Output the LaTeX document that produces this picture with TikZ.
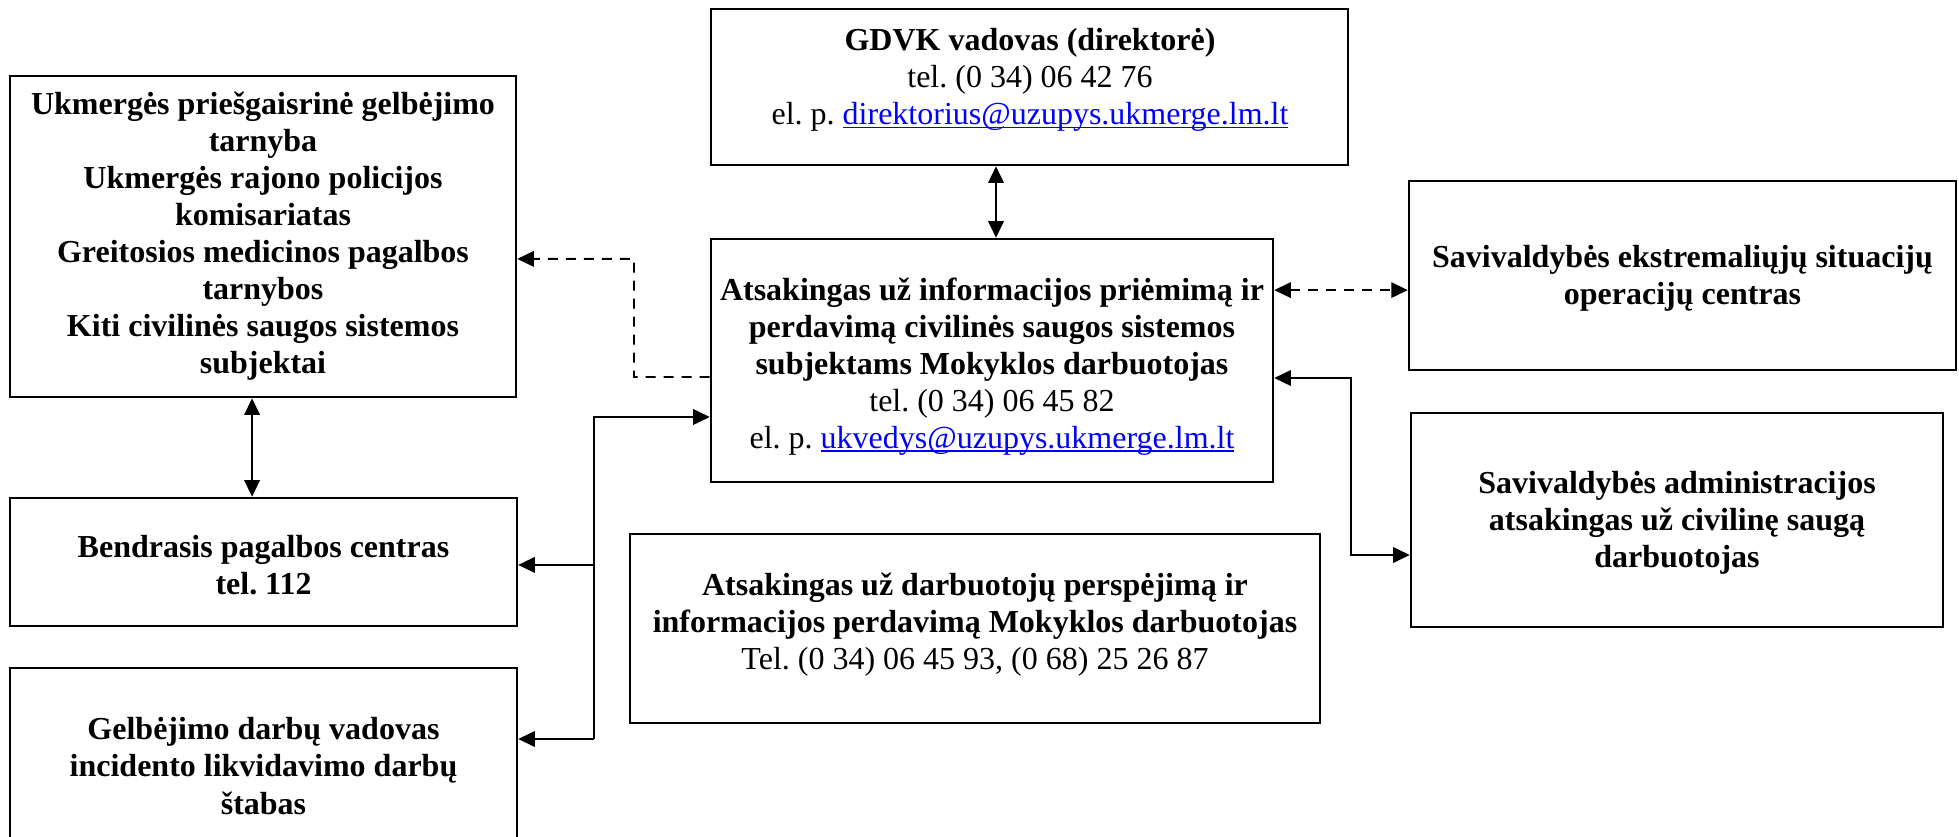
\documentclass[tikz,border=0pt]{standalone}
\usepackage{fontspec}
\setmainfont{Liberation Serif}
\usetikzlibrary{arrows.meta,calc}
\newcommand\lnk[1]{\textcolor{blue}{\setbox0\hbox{#1}\rlap{\rule[-1.3pt]{\wd0}{0.55pt}}\box0}}
\frenchspacing
\begin{document}
\begin{tikzpicture}[x=0.375pt,y=-0.375pt,
  >={Triangle[length=6.2pt,width=5.8pt]},
  box/.style={draw,line width=0.95pt,inner sep=0pt},
  txt/.style={align=center,inner sep=0pt,font=\fontsize{12pt}{13.9pt}\selectfont},
  conn/.style={line width=0.7pt},
  dsh/.style={conn,dash pattern=on 3.75pt off 3pt}
]
\clip (0,0) rectangle (1959,837);
\fill[white] (0,0) rectangle (1959,837);

% boxes
\node[box,minimum width=238.9pt,minimum height=58.5pt] (gdvk) at (1029.5,87) {};
\node[txt] (gdvkT) at (1030,80) {\textbf{GDVK vadovas (direktorė)}\\tel. (0 34) 06 42 76\\el. p. \lnk{direktorius@uzupys.ukmerge.lm.lt}};

\node[box,minimum width=210.75pt,minimum height=91.1pt] (atsak) at (992,360.5) {};
\node[txt] (atsakT) at (992,366.5) {\textbf{Atsakingas už informacijos priėmimą ir}\\\textbf{perdavimą civilinės saugos sistemos}\\\textbf{subjektams Mokyklos darbuotojas}\\tel. (0 34) 06 45 82\\el. p. \lnk{ukvedys@uzupys.ukmerge.lm.lt}};

\node[box,minimum width=189.75pt,minimum height=120.4pt] (ukm) at (263,236.5) {};
\node[txt,font=\fontsize{12pt}{13.9pt}\selectfont\bfseries] (ukmT) at (263,236) {Ukmergės priešgaisrinė gelbėjimo\\tarnyba\\Ukmergės rajono policijos\\komisariatas\\Greitosios medicinos pagalbos\\tarnybos\\Kiti civilinės saugos sistemos\\subjektai};

\node[box,minimum width=190.1pt,minimum height=48pt] (bendr) at (263.5,562) {};
\node[txt,font=\fontsize{12pt}{13.9pt}\selectfont\bfseries] (bendrT) at (263.5,565) {Bendrasis pagalbos centras\\tel. 112};

\node[box,minimum width=190.1pt,minimum height=76.5pt] (gelb) at (263.5,770) {};
\node[txt,font=\fontsize{12pt}{13.9pt}\selectfont\bfseries] (gelbT) at (263.5,766) {Gelbėjimo darbų vadovas\\incidento likvidavimo darbų\\štabas};

\node[box,minimum width=258.75pt,minimum height=70.9pt] (darb) at (975,628.5) {};
\node[txt] (darbT) at (975,625) {\textbf{Atsakingas už darbuotojų perspėjimą ir}\\\textbf{informacijos perdavimą Mokyklos darbuotojas}\\Tel. (0 34) 06 45 93, (0 68) 25 26 87};

\node[box,minimum width=205.1pt,minimum height=70.9pt] (ekstr) at (1682.5,275.5) {};
\node[txt,font=\fontsize{12pt}{13.9pt}\selectfont\bfseries] (ekstrT) at (1682.5,278.5) {Savivaldybės ekstremaliųjų situacijų\\operacijų centras};

\node[box,minimum width=199.5pt,minimum height=80.25pt] (admin) at (1677,520) {};
\node[txt,font=\fontsize{12pt}{13.9pt}\selectfont\bfseries] (adminT) at (1677,522.5) {Savivaldybės administracijos\\atsakingas už civilinę saugą\\darbuotojas};

% connectors
\draw[conn,<->] ([xshift=1.5pt]atsak.north) -- ([xshift=1.5pt]atsak.north |- gdvk.south);
\draw[conn,<->] ([xshift=-4.1pt]ukm.south) -- ([xshift=-4.1pt]ukm.south |- bendr.north);

\coordinate (d1) at (634,377);
\draw[dsh,->] ([yshift=-6.2pt]atsak.west) -- (d1) |- ([yshift=-8.4pt]ukm.east);

\coordinate (t) at (594,417);
\coordinate (b) at (594,739);
\draw[conn,->] (b) -- (t) -- (t -| atsak.west);
\draw[conn,->] (b) -- (b -| gelb.east);
\draw[conn,->] ([yshift=-1.1pt]bendr.east -| t) -- ([yshift=-1.1pt]bendr.east);

\draw[dsh,<->] ([yshift=26.4pt]atsak.east) -- ([yshift=26.4pt]atsak.east -| ekstr.west);

\coordinate (r) at (1351,378);
\coordinate (r2) at (1351,555);
\draw[conn,<->] (r -| atsak.east) -- (r) -- (r2) -- (r2 -| admin.west);
\end{tikzpicture}
\end{document}
